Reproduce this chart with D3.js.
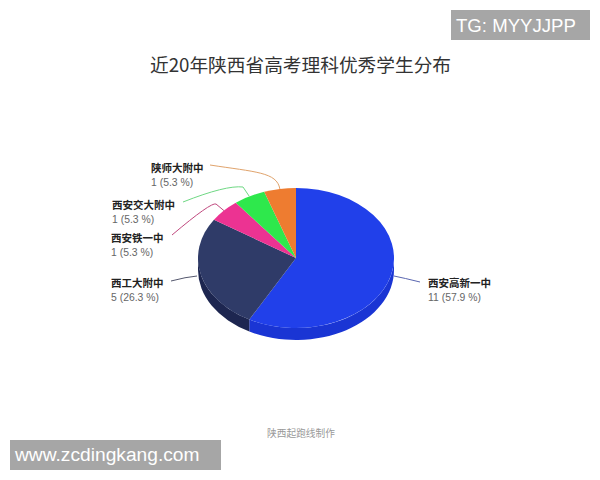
<!DOCTYPE html>
<html><head><meta charset="utf-8">
<script src="https://cdn.jsdelivr.net/npm/d3@7"></script>
<style>html,body{margin:0;padding:0;background:#fff}svg{display:block}</style>
</head><body><svg id="c" width="600" height="480"></svg>
<script>
const categories = ["西安高新一中","西工大附中","西安铁一中","西安交大附中","陕师大附中"];
const values = [11,5,1,1,1];
const percents = ["57.9","26.3","5.3","5.3","5.3"];
const topColors = ["#2140ea","#2f3b68","#ec3392","#2ee84c","#ee7c30"];
const sideColors = ["#1a35d4","#1d2650","#b02570","#22b038","#b85c20"];
const leaderColors = ["#5a66b0","#55586e","#c0487e","#6fd884","#e0a36c"];
const title = "近20年陕西省高考理科优秀学生分布";
const credit = "陕西起跑线制作";
const font = '"Noto Sans CJK SC","Liberation Sans",sans-serif';

const cx=296, cy=258, rx=98, ry=70, depth=12;
const labelX=[428,111,111,112,151], labelY=[287,287,242,209,172];
const svg=d3.select("#c");
const arcs=d3.pie().sort(null)(values);
const pt=(a,k=1)=>[cx+rx*k*Math.sin(a), cy-ry*k*Math.cos(a)];

const P=Math.PI;
arcs.forEach((d,i)=>{
  const a0=Math.max(d.startAngle,P/2), a1=Math.min(d.endAngle,3*P/2);
  if(a1<=a0) return;
  const [x0,y0]=pt(a0),[x1,y1]=pt(a1);
  svg.append("path")
    .attr("d",`M${x0},${y0}A${rx},${ry} 0 0 1 ${x1},${y1}L${x1},${y1+depth}A${rx},${ry} 0 0 0 ${x0},${y0+depth}Z`)
    .attr("fill",sideColors[i]);
});
const arc=d3.arc().innerRadius(0).outerRadius(rx);
svg.append("g").attr("transform",`translate(${cx},${cy}) scale(1,${ry/rx})`)
  .selectAll("path").data(arcs).join("path")
  .attr("d",arc).attr("fill",(d,i)=>topColors[i]);

// leader tails, continuing from each slice's mid-angle point on the rim
const tails=[
  "Q404,278 420,282",
  "Q186,277 171,281",
  "L216,204 Q211,202 172,235",
  "L243,187 Q226,185 183,202",
  "C277,172 255,172 210,165"
];
arcs.forEach((d,i)=>{
  const m=(d.startAngle+d.endAngle)/2;
  let [x,y]=pt(m);
  if(i==0){x=394;y=276;} else if(i==1){x=197;y=276;}
  svg.append("path").attr("d",`M${x},${y}${tails[i]}`)
    .attr("fill","none").attr("stroke",leaderColors[i]).attr("stroke-width",1);
  svg.append("text").attr("x",labelX[i]).attr("y",labelY[i]).attr("font-family",font)
    .attr("font-size",10.5).attr("font-weight",700).attr("fill","#222").text(categories[i]);
  svg.append("text").attr("x",labelX[i]).attr("y",labelY[i]+14).attr("font-family",'"Liberation Sans",sans-serif')
    .attr("font-size",10.4).attr("fill","#666").text(`${values[i]} (${percents[i]} %)`);
});

svg.append("text").attr("x",300.5).attr("y",72).attr("text-anchor","middle")
  .attr("font-family",font).attr("font-size",18.7).attr("fill","#333").text(title);
svg.append("text").attr("x",301).attr("y",437).attr("text-anchor","middle")
  .attr("font-family",font).attr("font-size",9.7).attr("fill","#999").text(credit);

svg.append("rect").attr("x",451).attr("y",10).attr("width",139).attr("height",30).attr("fill","#a6a6a6");
svg.append("text").attr("x",456).attr("y",32).attr("font-family",'"Liberation Sans",sans-serif')
  .attr("font-size",18.6).attr("fill","#fff").text("TG: MYYJJPP");
svg.append("rect").attr("x",10).attr("y",440).attr("width",211).attr("height",30).attr("fill","#a6a6a6");
svg.append("text").attr("x",15).attr("y",461).attr("font-family",'"Liberation Sans",sans-serif')
  .attr("font-size",19.2).attr("fill","#fff").text("www.zcdingkang.com");
</script></body></html>
